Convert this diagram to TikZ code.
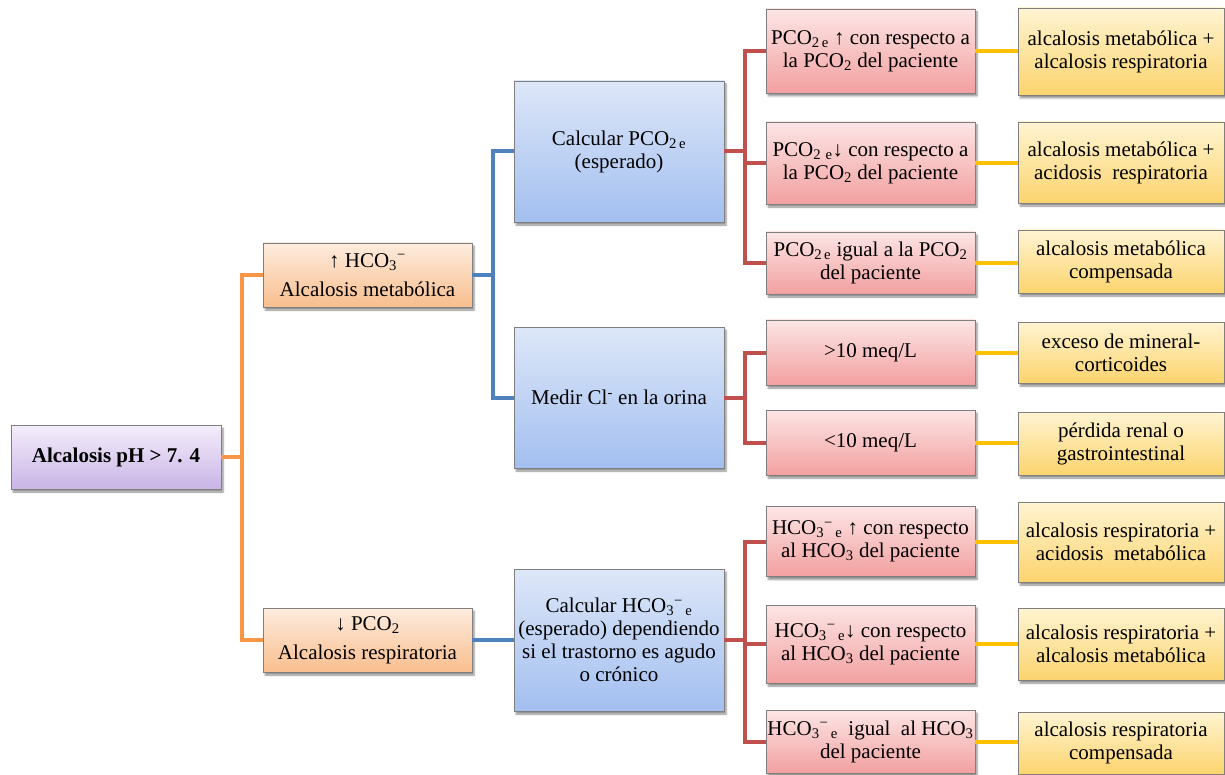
\documentclass[tikz,border=0pt]{standalone}
\usepackage{fontspec}
\setmainfont{Liberation Serif}
\usetikzlibrary{shadows.blur}
\definecolor{cOrange}{HTML}{F79646}
\definecolor{cBlue}{HTML}{4F81BD}
\definecolor{cRed}{HTML}{C0504D}
\definecolor{cYellow}{HTML}{FFC000}
\definecolor{cBorder}{HTML}{7F7F7F}
\tikzset{
  bx/.style={draw=cBorder, line width=0.8pt, align=center, inner sep=1pt,
    font=\fontsize{21}{23}\selectfont,
    blur shadow={shadow xshift=2pt, shadow yshift=-3pt, shadow blur steps=6, shadow opacity=45}},
  rootbox/.style={bx, top color={rgb,255:red,245;green,238;blue,252}, bottom color={rgb,255:red,200;green,180;blue,230}, minimum width=210pt, minimum height=64pt},
  obox/.style={bx, top color={rgb,255:red,253;green,236;blue,222}, bottom color={rgb,255:red,249;green,190;blue,142}, minimum width=209pt, minimum height=64pt},
  bbox/.style={bx, top color={rgb,255:red,221;green,231;blue,248}, bottom color={rgb,255:red,163;green,191;blue,240}, minimum width=210pt},
  rbox/.style={bx, top color={rgb,255:red,253;green,229;blue,229}, bottom color={rgb,255:red,242;green,160;blue,160}, minimum width=209pt},
  ybox/.style={bx, top color={rgb,255:red,255;green,244;blue,210}, bottom color={rgb,255:red,252;green,212;blue,110}, minimum width=206pt},
  conn/.style={line width=4pt},
  oline/.style={conn, draw=cOrange},
  bline/.style={conn, draw=cBlue},
  rline/.style={conn, draw=cRed},
  yline/.style={conn, draw=cYellow},
}
\begin{document}
\begin{tikzpicture}[x=1pt,y=-1pt]
\useasboundingbox (0,0) rectangle (1225,775);
% root
\node[rootbox] (root) at (116,457) {\textbf{Alcalosis pH > 7. 4}};
% level 1
\node[obox] (m1) at (367.5,275) {↑ HCO\textsubscript{3}\textsuperscript{−}\\[6pt]Alcalosis metabólica};
\node[obox] (m2) at (367.5,640) {↓ PCO\textsubscript{2}\\[6pt]Alcalosis respiratoria};
% level 2
\node[bbox, minimum height=141pt] (c1) at (619,151.5) {Calcular PCO\textsubscript{2\,e}\\(esperado)};
\node[bbox, minimum height=141pt] (c2) at (619,397.5) {Medir Cl\textsuperscript{-} en la orina};
\node[bbox, minimum height=142pt] (c3) at (619,640) {Calcular HCO\textsubscript{3}\textsuperscript{−}\textsubscript{\,e}\\(esperado) dependiendo\\si el trastorno es agudo\\o crónico};
% level 3
\node[rbox, minimum height=84pt] (d1) at (870.5,51) {PCO\textsubscript{2\,e} ↑ con respecto a\\la PCO\textsubscript{2} del paciente};
\node[rbox, minimum height=82pt] (d2) at (870.5,163) {PCO\textsubscript{2\,\,e}↓ con respecto a\\la PCO\textsubscript{2} del paciente};
\node[rbox, minimum height=62pt] (d3) at (870.5,263) {PCO\textsubscript{2\,e} igual a la PCO\textsubscript{2}\\del paciente};
\node[rbox, minimum height=65pt] (d4) at (870.5,352.5) {>10 meq/L};
\node[rbox, minimum height=65pt] (d5) at (870.5,442.5) {<10 meq/L};
\node[rbox, minimum height=70pt] (d6) at (870.5,541.5) {HCO\textsubscript{3}\textsuperscript{−}\textsubscript{\,e} ↑ con respecto\\al HCO\textsubscript{3} del paciente};
\node[rbox, minimum height=78pt] (d7) at (870.5,644) {HCO\textsubscript{3}\textsuperscript{−}\textsubscript{\,e}↓ con respecto\\al HCO\textsubscript{3} del paciente};
\node[rbox, minimum height=63pt] (d8) at (870.5,741.5) {HCO\textsubscript{3}\textsuperscript{−}\textsubscript{\,e}\ \ igual\ \ al HCO\textsubscript{3}\\del paciente};
% level 4
\node[ybox, minimum height=87pt] (e1) at (1121,51.5) {alcalosis metabólica +\\alcalosis respiratoria};
\node[ybox, minimum height=81pt] (e2) at (1121,162.5) {alcalosis metabólica +\\acidosis\ \ respiratoria};
\node[ybox, minimum height=63pt] (e3) at (1121,261.5) {alcalosis metabólica\\compensada};
\node[ybox, minimum height=61pt] (e4) at (1121,352.5) {exceso de mineral-\\corticoides};
\node[ybox, minimum height=63pt] (e5) at (1121,443.5) {pérdida renal o\\gastrointestinal};
\node[ybox, minimum height=80pt] (e6) at (1121,542) {alcalosis respiratoria +\\acidosis\ \ metabólica};
\node[ybox, minimum height=72pt] (e7) at (1121,644) {alcalosis respiratoria +\\alcalosis metabólica};
\node[ybox, minimum height=62pt] (e8) at (1121,743) {alcalosis respiratoria\\compensada};
% connectors
\coordinate (ob) at ([xshift=21pt]root.east);
\draw[oline] (root.east) -- (ob);
\draw[oline] (m1.west) -| (ob) |- (m2.west);
\coordinate (bb) at ([xshift=21pt]m1.east);
\draw[bline] (m1.east) -- (bb);
\draw[bline] (c1.west) -| (bb) |- (c2.west);
\draw[bline] (m2.east) -- (c3.west);
\coordinate (rb1) at ([xshift=21pt]c1.east);
\draw[rline] (c1.east) -- (rb1);
\draw[rline] (d1.west) -| (rb1) |- (d3.west);
\draw[rline] (d2.west) -- (d2.west -| rb1);
\coordinate (rb2) at ([xshift=21pt]c2.east);
\draw[rline] (c2.east) -- (rb2);
\draw[rline] (d4.west) -| (rb2) |- (d5.west);
\coordinate (rb3) at ([xshift=21pt]c3.east);
\draw[rline] (c3.east) -- (rb3);
\draw[rline] (d6.west) -| (rb3) |- (d8.west);
\draw[rline] (d7.west) -- (d7.west -| rb3);
\foreach \i in {1,...,8} {\draw[yline] (d\i.east) -- (d\i.east -| e\i.west);}
\end{tikzpicture}
\end{document}
